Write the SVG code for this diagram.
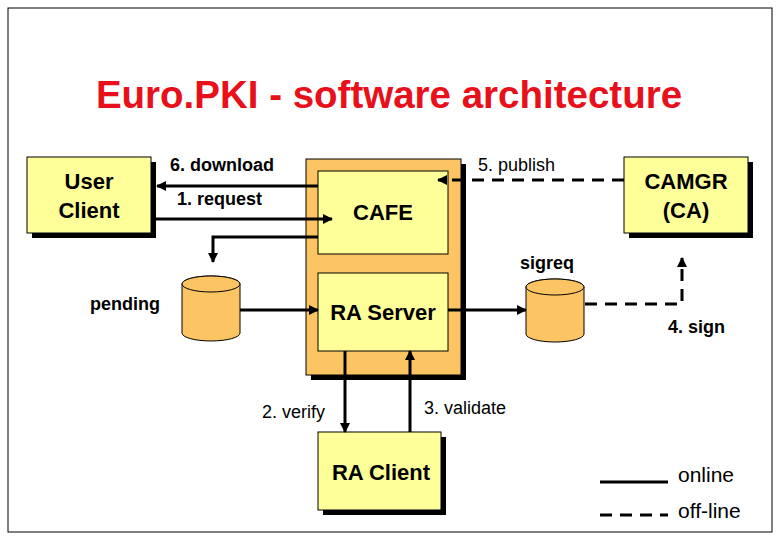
<svg xmlns="http://www.w3.org/2000/svg" width="780" height="540" viewBox="0 0 780 540">
<defs>
<marker id="ah" markerWidth="10" markerHeight="10" refX="9" refY="5" orient="auto" markerUnits="userSpaceOnUse"><path d="M0,0 L10,5 L0,10 z" fill="#000"/></marker>
</defs>
<style>
text{font-family:"Liberation Sans",Arial,sans-serif;font-weight:bold;fill:#000}
.box{fill:#ffff99;stroke:#000;stroke-width:1}
.sh{fill:#000}
.ln{fill:none;stroke:#000;stroke-width:3}
.ds{stroke-dasharray:12,8}
.cyl{fill:#fcc463;stroke:#000;stroke-width:1}
.lbl{font-size:18px}
.big{font-size:22px}
</style>
<rect x="0" y="0" width="780" height="540" fill="#fff"/>
<rect x="8" y="8" width="764" height="524" fill="none" stroke="#000" stroke-width="1"/>
<text x="389" y="108" text-anchor="middle" style="font-size:38.5px;fill:#e8101a">Euro.PKI - software architecture</text>
<g id="user-client"><rect class="sh" x="32" y="162" width="124" height="76"/><rect class="box" x="27" y="157" width="124" height="76"/><text class="big" x="89" y="189" text-anchor="middle">User</text><text class="big" x="89" y="218" text-anchor="middle">Client</text></g>
<g id="ra-box"><rect class="sh" x="311" y="164" width="155" height="216"/><rect x="306" y="159" width="155" height="216" fill="#fcc463" stroke="#000"/></g>
<g id="cafe"><rect class="box" x="318" y="171" width="130" height="83"/><text class="big" x="383" y="220" text-anchor="middle">CAFE</text></g>
<g id="ra-server"><rect class="box" x="318" y="273" width="130" height="78"/><text class="big" x="383" y="320" text-anchor="middle">RA Server</text></g>
<g id="camgr"><rect class="sh" x="629" y="162" width="124" height="76"/><rect class="box" x="624" y="157" width="124" height="76"/><text class="big" x="686" y="189" text-anchor="middle">CAMGR</text><text class="big" x="686" y="218" text-anchor="middle">(CA)</text></g>
<g id="ra-client"><rect class="sh" x="323" y="437" width="123" height="78"/><rect class="box" x="318" y="432" width="123" height="78"/><text class="big" x="381" y="480" text-anchor="middle">RA Client</text></g>
<g id="pending"><path class="cyl" d="M182,284 V333 A29,8 0 0 0 240,333 V284 A29,8 0 0 0 182,284 Z"/><ellipse class="cyl" cx="211" cy="284" rx="29" ry="8"/><text class="lbl" x="125" y="310" text-anchor="middle">pending</text></g>
<g id="sigreq"><path class="cyl" d="M526,287 V334 A29,8 0 0 0 584,334 V287 A29,8 0 0 0 526,287 Z"/><ellipse class="cyl" cx="555" cy="287" rx="29" ry="8"/><text class="lbl" x="547" y="269" text-anchor="middle">sigreq</text></g>
<g id="connectors">
<path class="ln" d="M318,186 H157" marker-end="url(#ah)"/>
<path class="ln" d="M151,219 H332" marker-end="url(#ah)"/>
<path class="ln" d="M318,237 H213 V262" marker-end="url(#ah)"/>
<path class="ln" d="M240,310 H318" marker-end="url(#ah)"/>
<path class="ln" d="M448,310 H526" marker-end="url(#ah)"/>
<path class="ln ds" d="M585,304 H682 V258" marker-end="url(#ah)"/>
<path class="ln ds" d="M624,180 H438" marker-end="url(#ah)"/>
<path class="ln" d="M345,351 V432" marker-end="url(#ah)"/>
<path class="ln" d="M410,432 V351" marker-end="url(#ah)"/>
<path class="ln" d="M600,482 H668"/>
<path class="ln ds" d="M600,515 H668"/>
</g>
<text class="lbl" x="170" y="171">6. download</text>
<text class="lbl" x="177" y="205">1. request</text>
<text class="lbl" x="478" y="171" style="font-weight:normal">5. publish</text>
<text class="lbl" x="668" y="333">4. sign</text>
<text class="lbl" x="262" y="418" style="font-weight:normal">2. verify</text>
<text class="lbl" x="424" y="414" style="font-weight:normal">3. validate</text>
<text x="678" y="482" style="font-size:21px;font-weight:normal">online</text>
<text x="678" y="518" style="font-size:21px;font-weight:normal">off-line</text>
</svg>
